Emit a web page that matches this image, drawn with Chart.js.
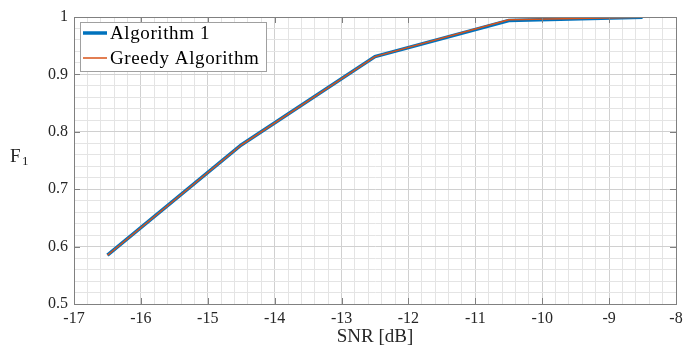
<!DOCTYPE html>
<html>
<head>
<meta charset="utf-8">
<script src="https://cdn.jsdelivr.net/npm/chart.js@4"></script>
<style>
  html, body { margin: 0; padding: 0; background: #fff; }
  #wrap { width: 694px; height: 346px; }
</style>
</head>
<body>
<div id="wrap"><canvas id="snrChart" width="694" height="346"></canvas></div>
<script>
// SNR points and F1 scores
const snr = [-16.5, -14.5, -12.5, -10.5, -8.5];
const algorithm1 = [0.585, 0.777, 0.931, 0.994, 0.9995];
const greedy = [0.585, 0.777, 0.931, 0.995, 0.9995];
const xTicks = [-17, -16, -15, -14, -13, -12, -11, -10, -9, -8];
const yTicks = [0.5, 0.6, 0.7, 0.8, 0.9, 1];

const serif = "'Liberation Serif', 'DejaVu Serif', serif";
const isMajor = (v, list) => list.some(t => Math.abs(t - v) < 1e-6);

// Box around the plot, inward tick marks, F1 label and the legend
const framePlugin = {
    id: 'frame',
    afterDatasetsDraw(chart) {
        const { ctx, chartArea: a, scales } = chart;
        ctx.save();
        ctx.strokeStyle = '#808080';
        ctx.lineWidth = 1;
        ctx.beginPath();
        xTicks.forEach(v => {
            const x = Math.round(scales.x.getPixelForValue(v)) + 0.5;
            ctx.moveTo(x, a.bottom); ctx.lineTo(x, a.bottom - 6);
            ctx.moveTo(x, a.top); ctx.lineTo(x, a.top + 6);
        });
        yTicks.forEach(v => {
            const y = Math.round(scales.y.getPixelForValue(v)) + 0.5;
            ctx.moveTo(a.left, y); ctx.lineTo(a.left + 6, y);
            ctx.moveTo(a.right, y); ctx.lineTo(a.right - 6, y);
        });
        ctx.stroke();
        ctx.strokeRect(Math.round(a.left) + 0.5, Math.round(a.top) + 0.5,
            Math.round(a.right - a.left), Math.round(a.bottom - a.top));

        // y label F with subscript 1
        ctx.fillStyle = '#262626';
        ctx.textBaseline = 'alphabetic';
        ctx.font = '19px ' + serif;
        ctx.fillText('F', 10, 162);
        ctx.font = '13px ' + serif;
        ctx.fillText('1', 22, 165);

        // legend
        const lx = a.left + 6, ly = a.top + 5, lw = 186, lh = 49;
        ctx.fillStyle = '#fff';
        ctx.fillRect(lx, ly, lw, lh);
        ctx.strokeStyle = '#a0a0a0';
        ctx.strokeRect(lx + 0.5, ly + 0.5, lw, lh);
        ctx.font = '19px ' + serif;
        ctx.letterSpacing = '0.6px';
        ctx.textBaseline = 'middle';
        chart.data.datasets.forEach((ds, i) => {
            const y = ly + 11 + i * 25;
            ctx.strokeStyle = ds.borderColor;
            ctx.lineWidth = ds.borderWidth;
            ctx.beginPath();
            ctx.moveTo(lx + 3, y); ctx.lineTo(lx + 27, y);
            ctx.stroke();
            ctx.fillStyle = '#000';
            ctx.fillText(ds.label, lx + 30, y + 1);
        });
        ctx.restore();
    }
};

const ctx = document.getElementById('snrChart').getContext('2d');
new Chart(ctx, {
    type: 'line',
    data: {
        datasets: [
            {
                label: 'Algorithm 1',
                data: snr.map((x, i) => ({ x: x, y: algorithm1[i] })),
                borderColor: '#0072BD',
                borderWidth: 3.5,
                pointRadius: 0,
                order: 2
            },
            {
                label: 'Greedy Algorithm',
                data: snr.map((x, i) => ({ x: x, y: greedy[i] })),
                borderColor: '#D95319',
                borderWidth: 1.5,
                pointRadius: 0,
                order: 1
            }
        ]
    },
    options: {
        responsive: false,
        animation: false,
        layout: { padding: { top: 17, right: 18, left: 0, bottom: 0 } },
        plugins: {
            legend: { display: false },
            tooltip: { enabled: false }
        },
        scales: {
            x: {
                type: 'linear',
                min: -17,
                max: -8,
                afterFit: s => { s.height = 42; },
                ticks: {
                    stepSize: 0.2,
                    autoSkip: false,
                    maxRotation: 0,
                    padding: 5,
                    color: '#262626',
                    font: { family: serif, size: 16 },
                    callback: v => isMajor(v, xTicks) ? String(Math.round(v)) : ''
                },
                grid: {
                    drawTicks: false,
                    color: c => isMajor(c.tick.value, xTicks) ? '#d0d0d0' : '#e4e4e4'
                },
                border: { color: '#808080' },
                title: {
                    display: true,
                    text: 'SNR [dB]',
                    color: '#262626',
                    font: { family: serif, size: 19 },
                    padding: { top: 0, bottom: -2 }
                }
            },
            y: {
                min: 0.5,
                max: 1,
                afterFit: s => { s.width = 74; },
                ticks: {
                    stepSize: 0.02,
                    autoSkip: false,
                    padding: 6,
                    color: '#262626',
                    font: { family: serif, size: 16 },
                    callback: v => isMajor(v, yTicks) ? String(Math.round(v * 10) / 10) : ''
                },
                grid: {
                    drawTicks: false,
                    color: c => isMajor(c.tick.value, yTicks) ? '#d0d0d0' : '#e4e4e4'
                },
                border: { color: '#808080' }
            }
        }
    },
    plugins: [framePlugin]
});
</script>
</body>
</html>
